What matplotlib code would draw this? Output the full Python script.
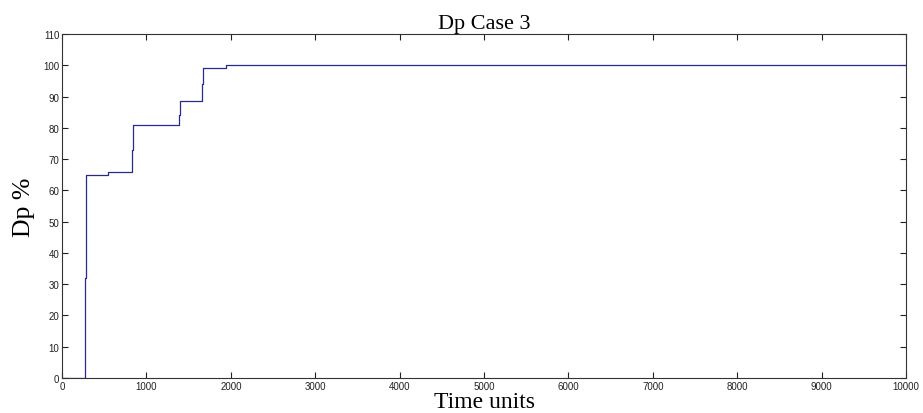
import numpy as np
import matplotlib.pyplot as plt

# Dp % over time, stepwise
t_change = [0, 270, 285, 549, 829, 836, 1386, 1395, 1659, 1666, 1940, 10000]
dp_pct = [0, 32, 65, 66, 73, 81, 84, 88.5, 94, 99, 100, 100]

xticks = np.arange(0, 10001, 1000)
yticks = np.arange(0, 111, 10)

fig = plt.figure(figsize=(9.23, 4.14), dpi=100)
ax = fig.add_axes([0.0672, 0.0845, 0.9144, 0.831])

ax.step(t_change, dp_pct, where='post', color='#28288f', linewidth=0.9)

ax.set_xlim(0, 10000)
ax.set_ylim(0, 110)
ax.set_xticks(xticks)
ax.set_yticks(yticks)
ax.tick_params(direction='in', top=True, right=True, length=4, width=0.8,
               labelsize=7, colors='#222222', pad=2)
for lab in ax.get_xticklabels() + ax.get_yticklabels():
    lab.set_family('Liberation Sans')
for s in ax.spines.values():
    s.set_linewidth(0.8)
    s.set_color('#333333')

ax.set_title('Dp Case 3', family='Liberation Serif', fontsize=16, pad=4)
ax.set_xlabel('Time units', family='Liberation Serif', fontsize=17, labelpad=0)
ax.set_ylabel('Dp %', family='Liberation Serif', fontsize=18.5, labelpad=6)

fig.savefig('out.png', dpi=100)
